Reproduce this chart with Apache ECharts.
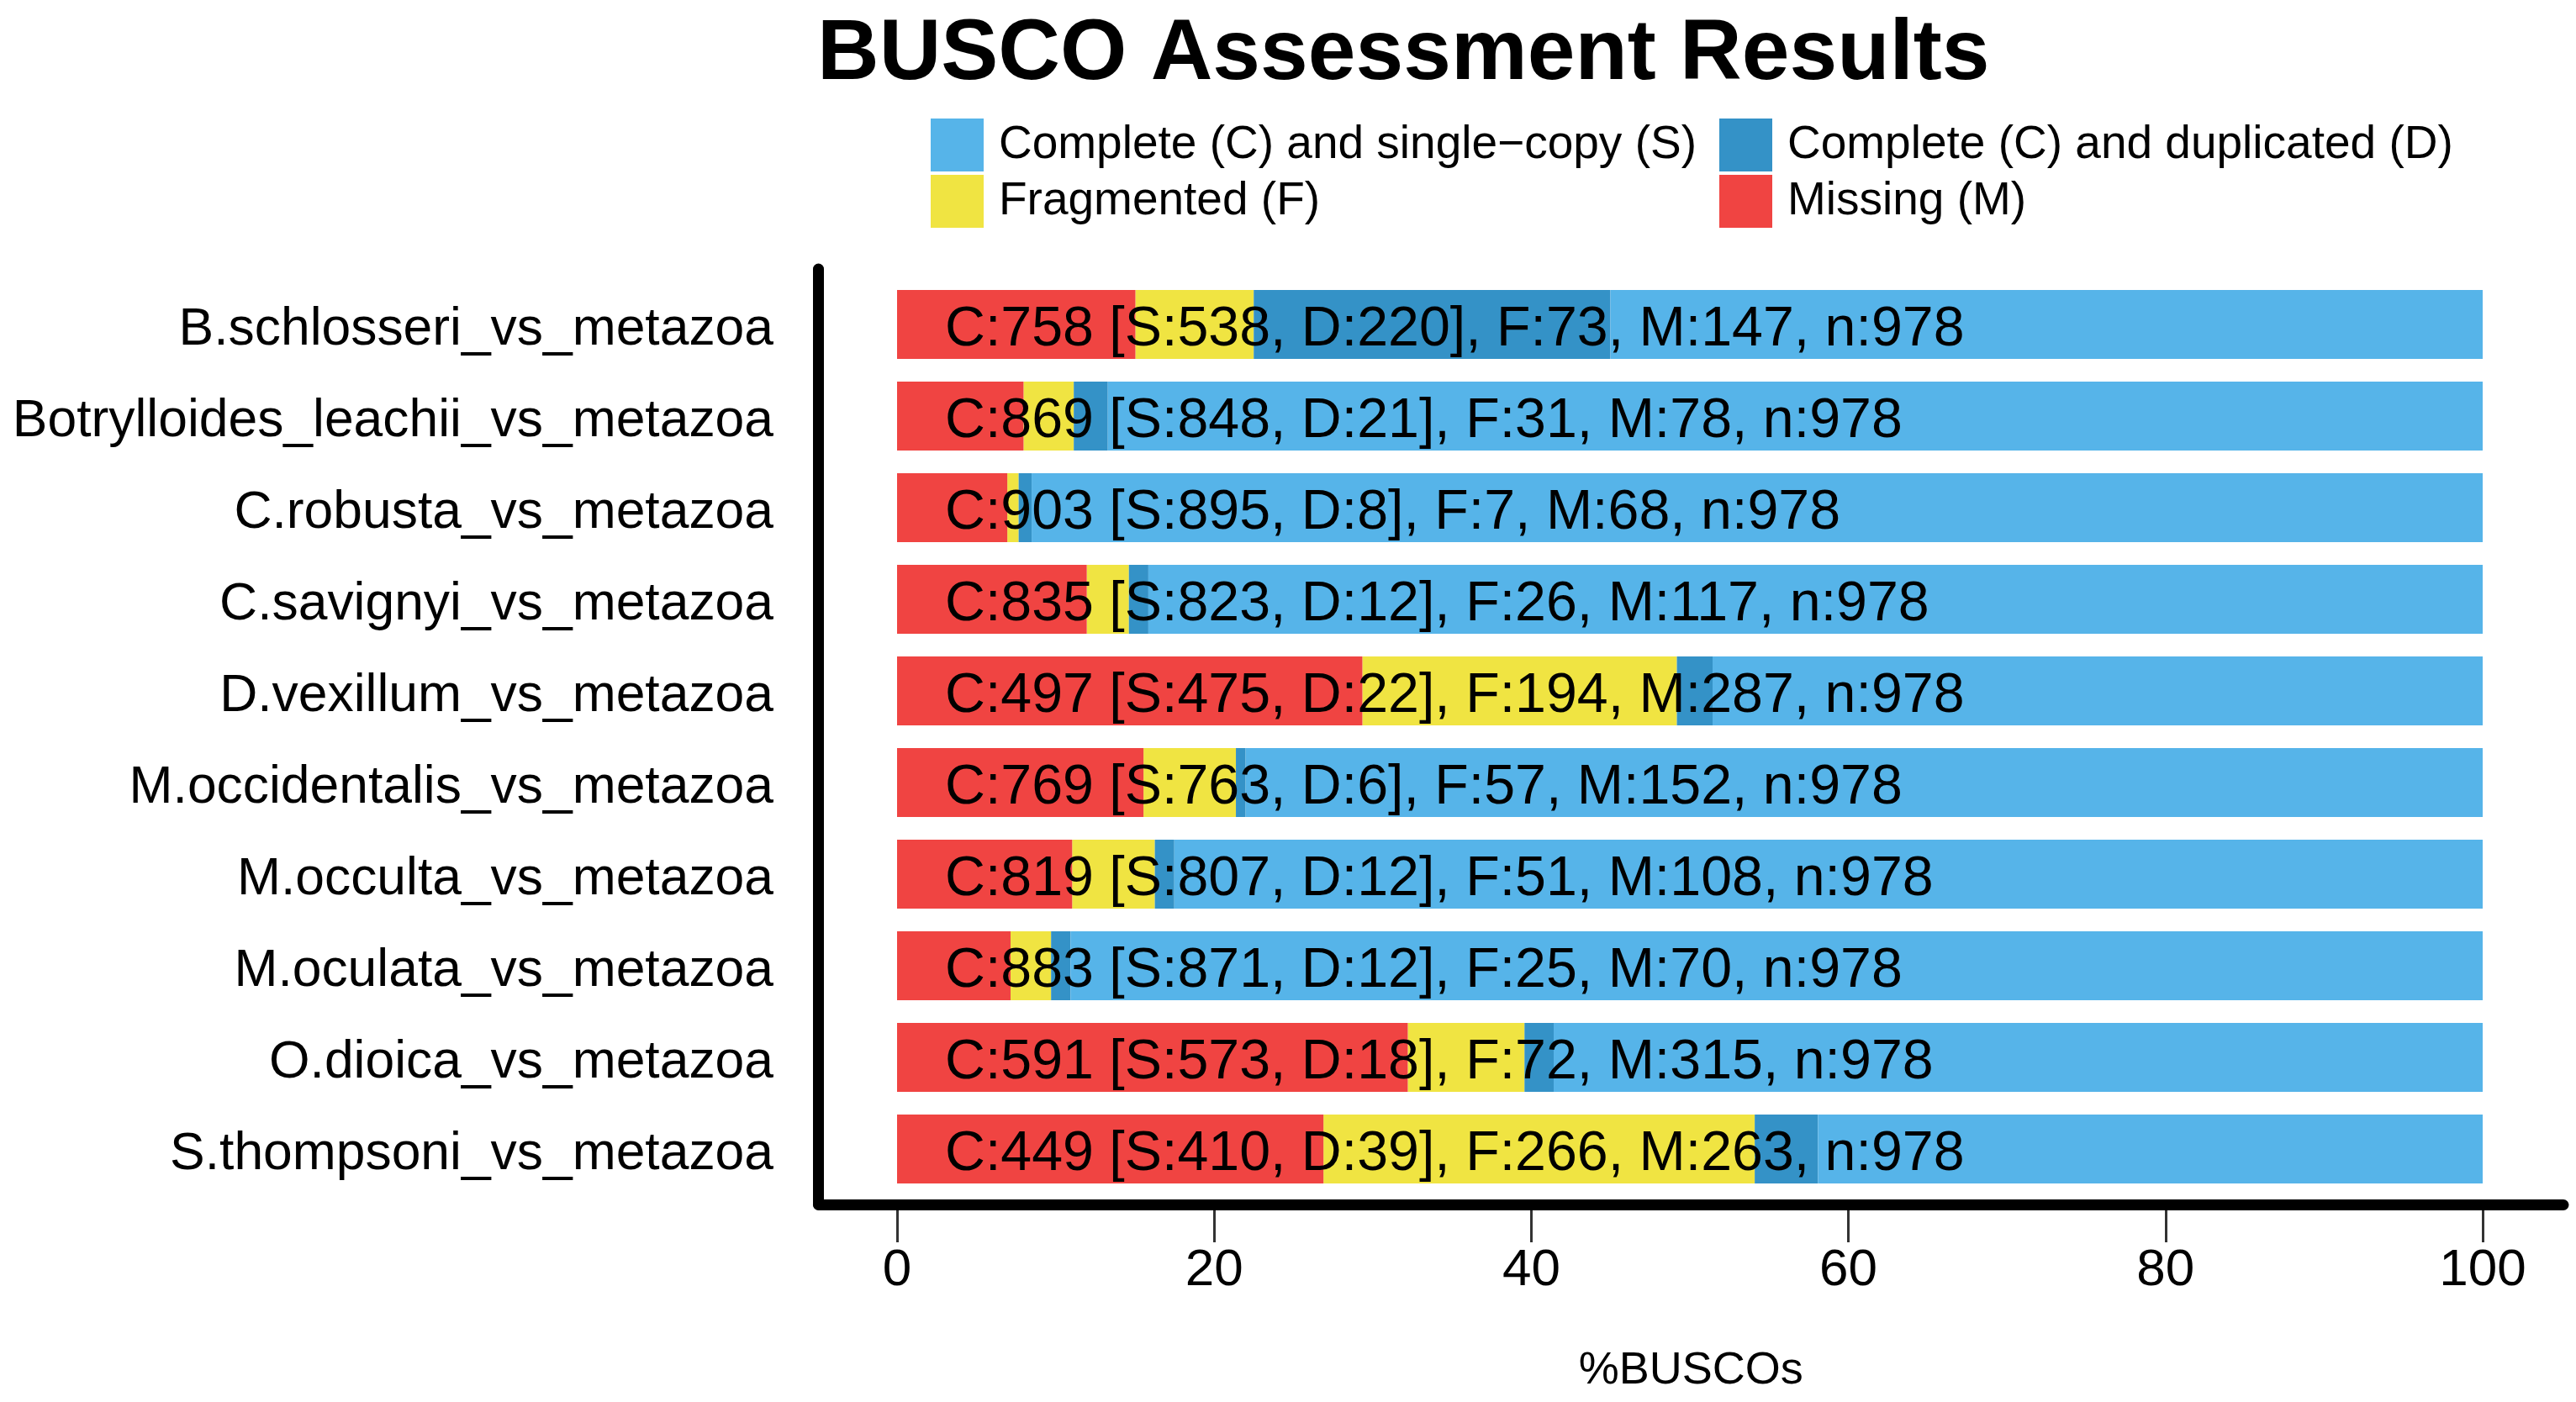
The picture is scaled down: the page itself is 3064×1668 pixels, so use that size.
<!DOCTYPE html>
<html>
<head>
<meta charset="utf-8">
<script src="https://cdn.jsdelivr.net/npm/echarts@6/dist/echarts.min.js"></script>
<style>
html,body{margin:0;padding:0;background:#fff;}
#chart{width:3064px;height:1668px;}
</style>
</head>
<body>
<div id="chart"></div>
<script>
var categories = ['B.schlosseri_vs_metazoa','Botrylloides_leachii_vs_metazoa','C.robusta_vs_metazoa','C.savignyi_vs_metazoa','D.vexillum_vs_metazoa','M.occidentalis_vs_metazoa','M.occulta_vs_metazoa','M.oculata_vs_metazoa','O.dioica_vs_metazoa','S.thompsoni_vs_metazoa'];
var complete   = [758, 869, 903, 835, 497, 769, 819, 883, 591, 449];
var single     = [538, 848, 895, 823, 475, 763, 807, 871, 573, 410];
var duplicated = [220,  21,   8,  12,  22,   6,  12,  12,  18,  39];
var fragmented = [ 73,  31,   7,  26, 194,  57,  51,  25,  72, 266];
var missing    = [147,  78,  68, 117, 287, 152, 108,  70, 315, 263];
var totals     = [978, 978, 978, 978, 978, 978, 978, 978, 978, 978];
var xTicks = [0, 20, 40, 60, 80, 100];

var names = ['Complete (C) and single\u2212copy (S)', 'Complete (C) and duplicated (D)', 'Fragmented (F)', 'Missing (M)'];
var colors = ['#56B4E9', '#3492C7', '#F0E442', '#F04442'];

function pct(arr) { return arr.map(function (v, i) { return v / totals[i] * 100; }); }

var FONT = "'Liberation Sans', Arial, Helvetica, sans-serif";
var chart = echarts.init(document.getElementById('chart'), null, {renderer: 'canvas'});

var option = {
  animation: false,
  backgroundColor: '#ffffff',
  textStyle: {fontFamily: FONT},
  title: {
    text: 'BUSCO Assessment Results',
    left: 972, top: 15, padding: 0,
    textStyle: {fontSize: 102, fontWeight: 'bold', color: '#000', fontFamily: FONT, lineHeight: 102}
  },
  legend: [
    {
      orient: 'vertical', left: 1107, top: 141, padding: 0,
      itemWidth: 63, itemHeight: 63, itemGap: 4, icon: 'rect', selectedMode: false,
      data: [names[0], names[2]],
      textStyle: {fontSize: 55, color: '#000', fontFamily: FONT, padding: [12, 0, 0, 13]}
    },
    {
      orient: 'vertical', left: 2045, top: 141, padding: 0,
      itemWidth: 63, itemHeight: 63, itemGap: 4, icon: 'rect', selectedMode: false,
      data: [names[1], names[3]],
      textStyle: {fontSize: 55, color: '#000', fontFamily: FONT, padding: [12, 0, 0, 13]}
    }
  ],
  grid: [
    {left: 1067, right: 111, top: 331.5, bottom: 246.5, containLabel: false},
    {left: 973.5, right: 15, top: 320, bottom: 235, containLabel: false}
  ],
  xAxis: [
    {
      type: 'value', gridIndex: 0, min: xTicks[0], max: xTicks[xTicks.length - 1], interval: 20,
      offset: 11.5,
      axisLine: {show: false},
      axisTick: {show: true, length: 45, lineStyle: {color: '#333333', width: 3}},
      axisLabel: {show: true, margin: 48, fontSize: 62, color: '#000', fontFamily: FONT,
        formatter: function (v) { return xTicks.indexOf(v) >= 0 ? String(v) : ''; }},
      splitLine: {show: false}
    },
    {
      type: 'value', gridIndex: 1, min: 0, max: 1, z: 1,
      name: '%BUSCOs', nameLocation: 'middle', nameGap: 171,
      nameTextStyle: {fontSize: 54, color: '#000', fontFamily: FONT},
      axisLine: {show: true, lineStyle: {color: '#000', width: 13}},
      axisTick: {show: false}, axisLabel: {show: false}, splitLine: {show: false}
    }
  ],
  yAxis: [
    {
      type: 'category', gridIndex: 0, inverse: true, data: categories, offset: 93, z: 5,
      axisLine: {show: false},
      axisTick: {show: true, alignWithLabel: true, length: 8, lineStyle: {color: '#ffffff', width: 2}},
      axisLabel: {show: true, margin: 54, fontSize: 62.4, color: '#000', fontFamily: FONT,
        verticalAlign: 'top', lineHeight: 13},
      splitLine: {show: false}
    },
    {
      type: 'value', gridIndex: 1, min: 0, max: 1, z: 1,
      axisLine: {show: true, lineStyle: {color: '#000', width: 13}},
      axisTick: {show: false}, axisLabel: {show: false}, splitLine: {show: false}
    }
  ],
  series: [
    {
      name: names[3], type: 'bar', stack: 'busco', barWidth: 82, z: 3,
      xAxisIndex: 0, yAxisIndex: 0,
      itemStyle: {color: colors[3]},
      data: pct(missing),
      label: {
        show: true, position: 'insideLeft', distance: 57, offset: [0, 7],
        fontSize: 66.3, color: '#000', fontFamily: FONT, textBorderWidth: 0,
        formatter: function (p) {
          var i = p.dataIndex;
          return 'C:' + complete[i] + ' [S:' + single[i] + ', D:' + duplicated[i] + '], F:' +
            fragmented[i] + ', M:' + missing[i] + ', n:' + totals[i];
        }
      }
    },
    {
      name: names[2], type: 'bar', stack: 'busco', barWidth: 82, z: 2,
      xAxisIndex: 0, yAxisIndex: 0,
      itemStyle: {color: colors[2]}, data: pct(fragmented)
    },
    {
      name: names[1], type: 'bar', stack: 'busco', barWidth: 82, z: 2,
      xAxisIndex: 0, yAxisIndex: 0,
      itemStyle: {color: colors[1]}, data: pct(duplicated)
    },
    {
      name: names[0], type: 'bar', stack: 'busco', barWidth: 82, z: 2,
      xAxisIndex: 0, yAxisIndex: 0,
      itemStyle: {color: colors[0]}, data: pct(single)
    },
    {
      type: 'line', xAxisIndex: 1, yAxisIndex: 1, data: [], silent: true
    }
  ]
};
chart.setOption(option);
</script>
</body>
</html>
